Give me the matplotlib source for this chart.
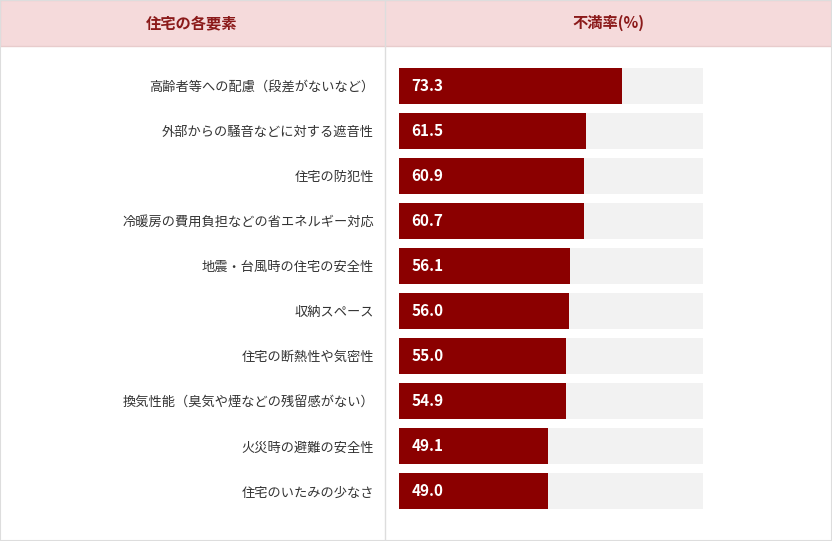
import matplotlib
matplotlib.use("Agg")
import matplotlib.pyplot as plt
from matplotlib.patches import Rectangle
from matplotlib.lines import Line2D

plt.rcParams["font.family"] = "Noto Sans CJK JP"

categories = ["高齢者等への配慮（段差がないなど）", "外部からの騒音などに対する遮音性", "住宅の防犯性",
              "冷暖房の費用負担などの省エネルギー対応", "地震・台風時の住宅の安全性", "収納スペース",
              "住宅の断熱性や気密性", "換気性能（臭気や煙などの残留感がない）", "火災時の避難の安全性",
              "住宅のいたみの少なさ"]
values = [73.3, 61.5, 60.9, 60.7, 56.1, 56.0, 55.0, 54.9, 49.1, 49.0]
headers = ["住宅の各要素", "不満率(%)"]

W, H = 832, 541
fig = plt.figure(figsize=(W/100, H/100), dpi=100)
fig.patches.append(Rectangle((0, 1-46/H), 1, 46/H, transform=fig.transFigure,
                             facecolor="#f5dadb", edgecolor="#e8cccc", lw=1))
fig.patches.append(Rectangle((0, 0), 1, 1, transform=fig.transFigure,
                             facecolor="none", edgecolor="#dddddd", lw=1.5))
fig.lines.append(Line2D([385/W, 385/W], [0, 1], transform=fig.transFigure, color="#dddddd", lw=1))
fig.text(192/W, 1-23/H, headers[0], ha="center", va="center", color="#8b1a1a", fontsize=11, fontweight="bold")
fig.text(608/W, 1-23/H, headers[1], ha="center", va="center", color="#8b1a1a", fontsize=11, fontweight="bold")

ax = fig.add_axes([399/W, 1-514/H, 304/W, 451/H])
y = range(len(categories))
ax.barh(y, [100]*len(values), height=0.8, color="#f2f2f2")
ax.barh(y, values, height=0.8, color="#8b0000")
for i, v in enumerate(values):
    ax.text(4, i, f"{v:.1f}", color="white", fontweight="bold", fontsize=11, va="center", ha="left")
ax.set_xlim(0, 100)
ax.set_ylim(len(categories)-0.5, -0.5)
ax.set_yticks(list(y))
ax.set_yticklabels(categories, fontsize=9.5, color="#333333")
ax.tick_params(axis="y", length=0, pad=18)
ax.set_xticks([])
for s in ax.spines.values():
    s.set_visible(False)
fig.savefig("out.png", dpi=100)
